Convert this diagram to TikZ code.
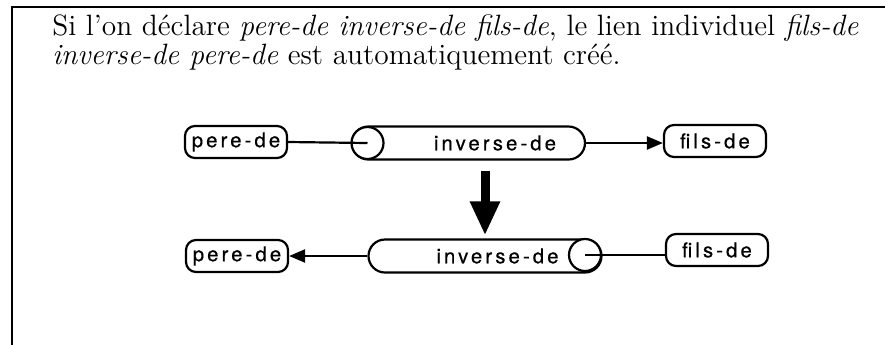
\documentclass[tikz,border=0pt]{standalone}
\usepackage{fontspec}
\newfontfamily\labfont[LetterSpace=15,FakeBold=0.5]{TeX Gyre Heros}
\usetikzlibrary{shapes.misc,arrows.meta}
\begin{document}
\begin{tikzpicture}[x=0.5pt,y=-0.5pt,
  lab/.style={font=\labfont\fontsize{10.2}{12}\selectfont},
  box/.style={draw, line width=1.1pt, rounded corners=5pt, minimum width=51pt, minimum height=16pt, inner sep=0pt, lab},
  body/.style={draw, line width=1.1pt, rounded rectangle, minimum height=16.5pt, minimum width=116.5pt, inner sep=0pt, lab},
  endcap/.style={draw, line width=1.1pt, circle, fill=white, minimum size=16pt, inner sep=0pt},
  conn/.style={line width=1.1pt},
  tip/.style={-{Triangle[length=8pt,width=6.5pt]}},
  txt/.style={anchor=base west, inner sep=0pt, font=\fontsize{14.7}{18}\selectfont}]
\useasboundingbox (0,0) rectangle (885,345);
% frame
\draw[line width=0.9pt] (12,345) -- (12,7) -- (885,7);
% text
\node[txt] (line1) at (52,35) {Si l'on déclare \textit{pere-de inverse-de fils-de}, le lien individuel \textit{fils-de}};
\node[txt] (line2) at (52,64) {\textit{inverse-de pere-de} est automatiquement créé.};
% top row
\node[box] (p1) at (236,142) {pere-de};
\node[body] (b1) at (468.5,143) {\hspace{26.5pt}inverse-de};
\node[endcap] (c1) at (367.5,143) {};
\node[box] (f1) at (715,141) {fils-de};
\draw[conn] (p1.east) -- (c1.center);
\draw[conn,tip] (b1.east) -- (f1.west |- b1.east);
% bottom row
\node[box] (p2) at (237,256) {pere-de};
\node[body] (b2) at (485,256) {\hspace{12.5pt}inverse-de};
\node[endcap] (c2) at (585,255) {};
\node[box] (f2) at (717,250) {fils-de};
\draw[conn,tip] (b2.west) -- (p2.east |- b2.west);
\draw[conn] (c2.center) -- (f2.west |- c2.center);
% big arrow
\draw[line width=4.5pt, -{Triangle[length=17pt,width=14pt]}, shorten <=5pt, shorten >=1.5pt]
  (b1.south -| b2.north) -- (b2.north);
\end{tikzpicture}
\end{document}
